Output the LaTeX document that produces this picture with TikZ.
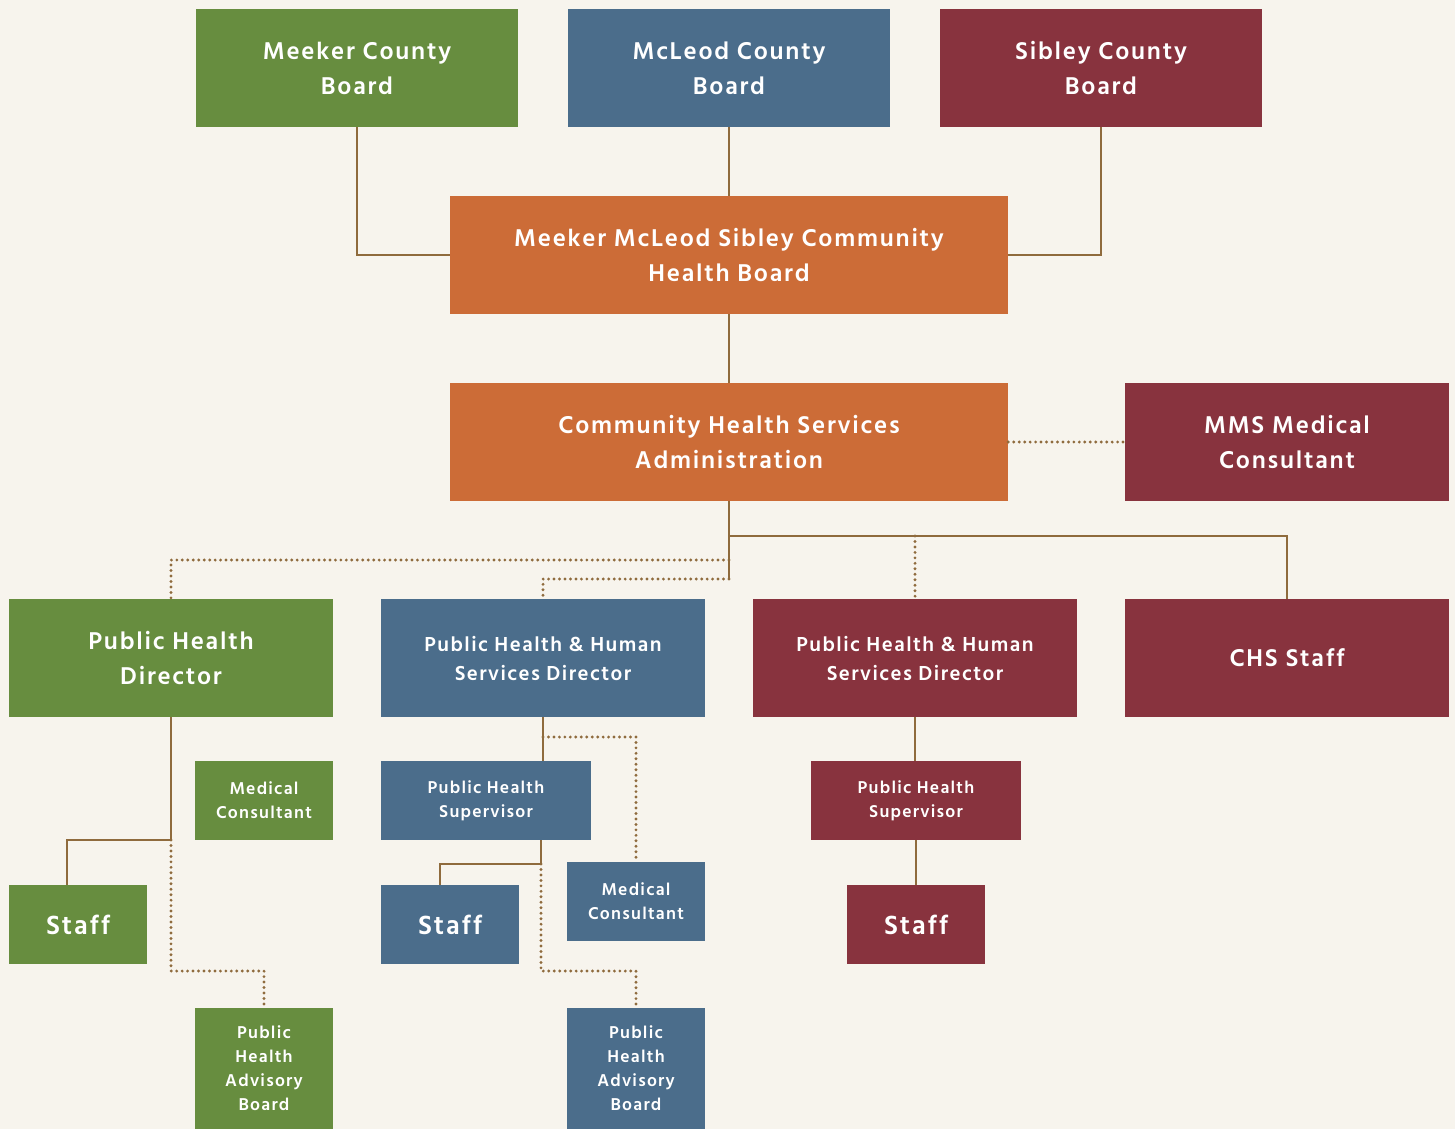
\documentclass[tikz,border=0pt]{standalone}
\usepackage{fontspec}
\setmainfont{Hind Siliguri}[LetterSpace=7]
\usetikzlibrary{calc}
\definecolor{cbg}{HTML}{F7F4ED}
\definecolor{cgreen}{HTML}{678D3F}
\definecolor{cblue}{HTML}{4B6D8B}
\definecolor{cred}{HTML}{88333E}
\definecolor{corange}{HTML}{CC6C37}
\definecolor{cline}{HTML}{8F6B3D}
\tikzset{
  box/.style n args={3}{rectangle, inner sep=0pt, fill=#1, text=white, align=center,
    minimum width=#2*0.75pt, minimum height=#3*0.75pt},
  fbig/.style={font=\bfseries\fontsize{18.7}{26.25}\selectfont},
  fmid/.style={font=\bfseries\fontsize{15.6}{21.75}\selectfont},
  fsml/.style={font=\bfseries\fontsize{13.2}{18}\selectfont},
  fstaff/.style={font=\bfseries\fontsize{20.3}{24}\selectfont},
  ln/.style={draw=cline, line width=2.1pt},
  dt/.style={draw=cline, line width=2.4pt, line cap=round, dash pattern=on 0pt off 4.1pt},
}
\begin{document}
\begin{tikzpicture}[x=0.75pt, y=-0.75pt]
\fill[cbg] (0,0) rectangle (1455,1129);
\useasboundingbox (0,0) rectangle (1455,1129);
% top row
\node[box={cgreen}{322}{118}, fbig] (meeker) at (357,68) {Meeker County\\Board};
\node[box={cblue}{322}{118}, fbig] (mcleod) at (729,68) {McLeod County\\Board};
\node[box={cred}{322}{118}, fbig] (sibley) at (1101,68) {Sibley County\\Board};
\node[box={corange}{558}{118}, fbig] (chb) at (729,255) {Meeker McLeod Sibley Community\\Health Board};
\node[box={corange}{558}{118}, fbig] (admin) at (729,442) {Community Health Services\\Administration};
\node[box={cred}{324}{118}, fbig] (mms) at (1287,442) {MMS Medical\\Consultant};
% directors
\node[box={cgreen}{324}{118}, fbig] (phd) at (171,658) {Public Health\\Director};
\node[box={cblue}{324}{118}, fmid] (bdir) at (543,658) {Public Health \& Human\\Services Director};
\node[box={cred}{324}{118}, fmid] (rdir) at (915,658) {Public Health \& Human\\Services Director};
\node[box={cred}{324}{118}, fbig] (chsstaff) at (1287,658) {CHS Staff};
% third level
\node[box={cgreen}{138}{79}, fsml] (gmed) at (264,800.5) {Medical\\Consultant};
\node[box={cblue}{210}{79}, fsml] (bsup) at (486,800.5) {Public Health\\Supervisor};
\node[box={cred}{210}{79}, fsml] (rsup) at (916,800.5) {Public Health\\Supervisor};
\node[box={cgreen}{138}{79}, fstaff] (gstaff) at (78,924.5) {Staff};
\node[box={cblue}{138}{79}, fstaff] (bstaff) at (450,924.5) {Staff};
\node[box={cblue}{138}{79}, fsml] (bmed) at (636,901.5) {Medical\\Consultant};
\node[box={cred}{138}{79}, fstaff] (rstaff) at (916,924.5) {Staff};
\node[box={cgreen}{138}{121}, fsml] (gphab) at (264,1068.5) {Public\\Health\\Advisory\\Board};
\node[box={cblue}{138}{121}, fsml] (bphab) at (636,1068.5) {Public\\Health\\Advisory\\Board};
% coordinates
\coordinate (j1) at (729,536);
\coordinate (j2) at (729,560);
\coordinate (j3) at (729,579);
\coordinate (gk) at (171,840);
\coordinate (gs) at (67,885);
\coordinate (gd) at (171,971);
\coordinate (bj) at (543,737);
\coordinate (bk) at (541,864);
\coordinate (bs) at (440,885);
\coordinate (bd) at (541,971);
% connectors
\draw[ln] (meeker.south) |- (chb.west);
\draw[ln] (mcleod.south) -- (chb.north);
\draw[ln] (sibley.south) |- (chb.east);
\draw[ln] (chb.south) -- (admin.north);
\draw[dt] (admin.east) -- (mms.west);
\draw[ln] (admin.south) -- (j3);
\draw[ln] (j1) -| (chsstaff.north);
\draw[dt] (j1 -| rdir.north) -- (rdir.north);
\draw[dt] (j2) -| (phd.north);
\draw[dt] (j3) -| (bdir.north);
% green branch
\draw[ln] (phd.south) -- (gk) -| (gs);
\draw[dt] (gk) -- (gd) -| (gphab.north);
% blue branch
\draw[ln] (bdir.south) -- (bdir.south |- bsup.north);
\draw[dt] (bj) -| (bmed.north);
\draw[ln] (bsup.south -| bk) -- (bk) -| (bs);
\draw[dt] (bk) -- (bd) -| (bphab.north);
% red branch
\draw[ln] (rdir.south) -- (rdir.south |- rsup.north);
\draw[ln] (rsup.south) -- (rstaff.north);
\end{tikzpicture}
\end{document}
